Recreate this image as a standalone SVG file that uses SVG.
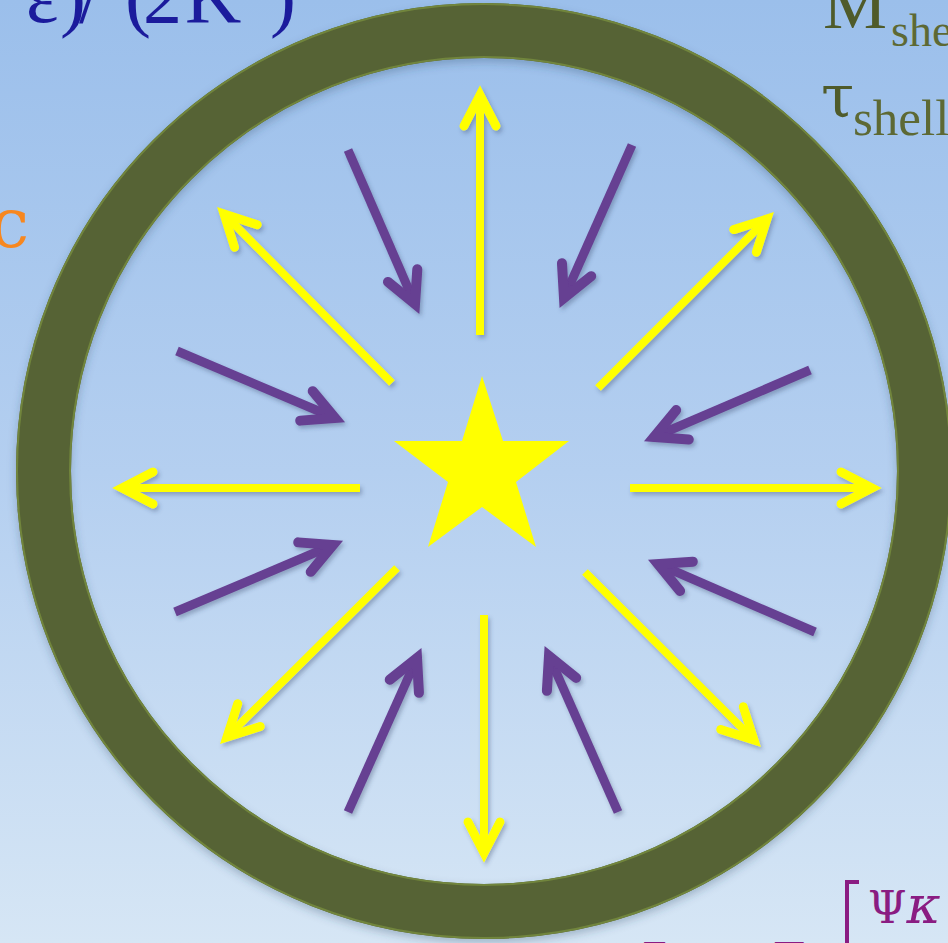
<svg xmlns="http://www.w3.org/2000/svg" width="948" height="943" viewBox="0 0 948 943">
<defs>
<linearGradient id="bg" x1="0" y1="0" x2="0" y2="1">
<stop offset="0" stop-color="#9bbfeb"/>
<stop offset="0.5" stop-color="#b4cff0"/>
<stop offset="1" stop-color="#d6e6f5"/>
</linearGradient>
<filter id="sh" filterUnits="userSpaceOnUse" x="0" y="0" width="948" height="943">
<feDropShadow dx="2" dy="3" stdDeviation="2" flood-color="#334466" flood-opacity="0.35"/>
</filter>
<filter id="rs" filterUnits="userSpaceOnUse" x="0" y="0" width="948" height="943">
<feDropShadow dx="0" dy="4" stdDeviation="4" flood-color="#334466" flood-opacity="0.3"/>
</filter>
<marker id="hy" markerUnits="userSpaceOnUse" markerWidth="80" markerHeight="80" viewBox="-40 -40 80 80" refX="0" refY="0" orient="auto" overflow="visible">
<path d="M-31,-16 L0,0 L-31,16" fill="none" stroke="#ffff00" stroke-width="9" stroke-linecap="round" stroke-linejoin="miter"/>
</marker>
<marker id="hp" markerUnits="userSpaceOnUse" markerWidth="80" markerHeight="80" viewBox="-40 -40 80 80" refX="0" refY="0" orient="auto" overflow="visible">
<path d="M-31,-16 L0,0 L-31,16" fill="none" stroke="#663f92" stroke-width="10" stroke-linecap="round" stroke-linejoin="miter"/>
</marker>
</defs>
<style>
.y{stroke:#ffff00;stroke-width:8;fill:none;stroke-linecap:butt;marker-end:url(#hy);filter:url(#sh)}
.p{stroke:#663f92;stroke-width:9;fill:none;stroke-linecap:butt;marker-end:url(#hp);filter:url(#sh)}
.serif{font-family:"Liberation Serif","Times New Roman",serif}
.olive{fill:#4f5b2a}
.olive2{fill:#5d6934}
</style>
<rect x="0" y="0" width="948" height="943" fill="url(#bg)"/>

<g id="formula-top-left" class="serif" fill="#1b1b9c" font-size="78">
<text y="22"><tspan x="-38">+</tspan><tspan x="26">ε</tspan><tspan x="60">)</tspan><tspan x="79">/</tspan><tspan x="125">(</tspan><tspan x="143">2</tspan><tspan x="185">K</tspan><tspan x="270">)</tspan></text>
</g>

<g id="label-c">
<text x="-10" y="247" font-family="'DejaVu Serif',serif" font-size="70" fill="#f7871f">c</text>
</g>

<g id="label-shell">
<text class="serif olive" x="823" y="28" font-size="72">M</text>
<text class="serif olive2" x="891" y="46" font-size="46">she</text>
<text x="821" y="117" font-family="'DejaVu Serif',serif" font-size="60" class="olive">τ</text>
<text class="serif olive2" x="853" y="135" font-size="51">shell</text>
</g>

<g id="shell" filter="url(#rs)">
<circle cx="484" cy="471" r="440.5" fill="none" stroke="#566335" stroke-width="55"/>
<circle cx="484" cy="471" r="467" fill="none" stroke="#71853c" stroke-width="2"/>
<circle cx="484" cy="471" r="414" fill="none" stroke="#71853c" stroke-width="2"/>
</g>

<g id="star">
<polygon points="482,376 503,441 569,441 516,482 536,547 482,507 428,547 448,482 394,441 462,441" fill="#ffff00"/>
</g>

<g id="arrows">
<line class="y" x1="480" y1="335" x2="480" y2="95"/>
<line class="y" x1="598" y1="388" x2="767" y2="219"/>
<line class="y" x1="630" y1="488" x2="872" y2="488"/>
<line class="y" x1="585" y1="572" x2="754" y2="740"/>
<line class="y" x1="484" y1="615" x2="484" y2="853"/>
<line class="y" x1="397" y1="568" x2="227" y2="737"/>
<line class="y" x1="360" y1="488" x2="122" y2="488"/>
<line class="y" x1="392" y1="383" x2="224" y2="214"/>
<line class="p" x1="348" y1="150" x2="415" y2="304"/>
<line class="p" x1="632" y1="145" x2="564" y2="298"/>
<line class="p" x1="810" y1="370" x2="654" y2="437"/>
<line class="p" x1="815" y1="632" x2="658" y2="564"/>
<line class="p" x1="618" y1="812" x2="549" y2="656"/>
<line class="p" x1="348" y1="812" x2="417" y2="658"/>
<line class="p" x1="175" y1="612" x2="333" y2="545"/>
<line class="p" x1="177" y1="351" x2="335" y2="418"/>
</g>

<g id="formula-bottom" fill="#8a1c82">
<text x="638" y="978" font-family="'DejaVu Serif',serif" font-style="italic" font-size="46">ζ</text>
<text x="770" y="963" font-family="'DejaVu Serif',serif" font-size="46">=</text>
<polyline points="859,882 847,882 847,943" fill="none" stroke="#8a1c82" stroke-width="4"/>
<text x="868" y="923" font-family="'DejaVu Serif',serif" font-size="44">Ψ<tspan font-style="italic" font-size="52">κ</tspan></text>
</g>
</svg>
